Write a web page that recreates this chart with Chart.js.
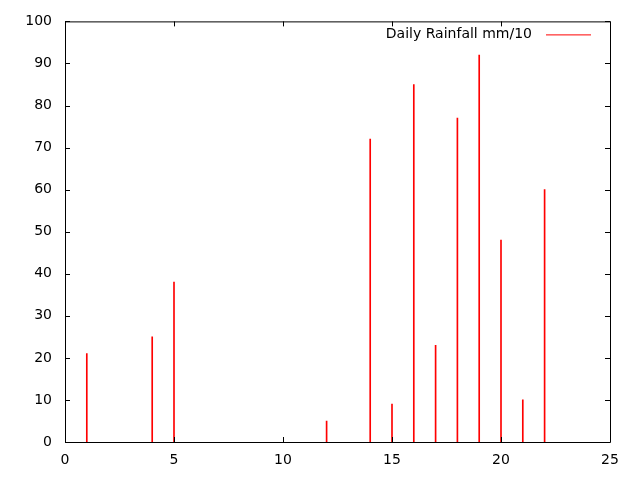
<!DOCTYPE html>
<html>
<head>
<meta charset="utf-8">
<script src="https://cdn.jsdelivr.net/npm/chart.js@4/dist/chart.umd.min.js"></script>
<style>
  html, body { margin: 0; padding: 0; background: #fff; }
  #wrap { width: 640px; height: 480px; }
</style>
</head>
<body>
<div id="wrap"><canvas id="rainChart" width="640" height="480"></canvas></div>
<script>
const days = [1, 4, 5, 12, 14, 15, 16, 17, 18, 19, 20, 21, 22];
const rainfall = [21, 25, 38, 5, 72, 9, 85, 23, 77, 92, 48, 10, 60];
const seriesLabel = "Daily Rainfall mm/10";
const xTicks = [0, 5, 10, 15, 20, 25];
const yTicks = [0, 10, 20, 30, 40, 50, 60, 70, 80, 90, 100];

const FONT = "DejaVu Sans";

// gnuplot style frame: box all round, ticks pointing inward on every side
const framePlugin = {
  id: "frame",
  afterDatasetsDraw(chart) {
    const { ctx, chartArea: a, scales } = chart;
    const len = 5;
    ctx.save();
    ctx.strokeStyle = "#000";
    ctx.lineWidth = 1;
    ctx.beginPath();
    ctx.rect(a.left + 0.5, a.top + 0.5, a.right - a.left, a.bottom - a.top);
    xTicks.forEach(function (v) {
      const x = Math.round(scales.x.getPixelForValue(v)) + 0.5;
      ctx.moveTo(x, a.bottom);
      ctx.lineTo(x, a.bottom - len);
      ctx.moveTo(x, a.top);
      ctx.lineTo(x, a.top + len);
    });
    yTicks.forEach(function (v) {
      const y = Math.round(scales.y.getPixelForValue(v)) + 0.5;
      ctx.moveTo(a.left, y);
      ctx.lineTo(a.left + len, y);
      ctx.moveTo(a.right, y);
      ctx.lineTo(a.right - len, y);
    });
    ctx.stroke();

    // key in the top right corner
    const ds = chart.data.datasets[0];
    ctx.font = "14px '" + FONT + "'";
    ctx.fillStyle = "#000";
    ctx.textAlign = "right";
    ctx.textBaseline = "alphabetic";
    ctx.fillText(ds.label, a.right - 78, a.top + 17);
    ctx.strokeStyle = ds.backgroundColor;
    ctx.beginPath();
    ctx.moveTo(a.right - 64, a.top + 13.5);
    ctx.lineTo(a.right - 19, a.top + 13.5);
    ctx.stroke();
    ctx.restore();
  },
};

new Chart(document.getElementById("rainChart"), {
  type: "bar",
  data: {
    datasets: [
      {
        label: seriesLabel,
        data: days.map(function (d, i) { return { x: d, y: rainfall[i] }; }),
        backgroundColor: "#ff0000",
        borderWidth: 0,
        barThickness: 1,
      },
    ],
  },
  options: {
    responsive: false,
    animation: false,
    layout: { padding: { top: 18, right: 30, left: 0, bottom: 0 } },
    plugins: {
      legend: { display: false },
      tooltip: { enabled: false },
    },
    scales: {
      x: {
        type: "linear",
        offset: false,
        min: 0,
        max: 25,
        afterBuildTicks(scale) {
          scale.ticks = xTicks.map(function (v) { return { value: v }; });
        },
        afterFit(scale) { scale.height = 38; },
        grid: { display: false, drawTicks: false, offset: false },
        border: { display: false },
        ticks: {
          color: "#000",
          padding: 10,
          maxRotation: 0,
          font: { family: FONT, size: 14 },
        },
      },
      y: {
        min: 0,
        max: 100,
        afterBuildTicks(scale) {
          scale.ticks = yTicks.map(function (v) { return { value: v }; });
        },
        afterFit(scale) { scale.width = 65; },
        grid: { display: false, drawTicks: false },
        border: { display: false },
        ticks: {
          color: "#000",
          padding: 13,
          font: { family: FONT, size: 14 },
        },
      },
    },
  },
  plugins: [framePlugin],
});
</script>
</body>
</html>
